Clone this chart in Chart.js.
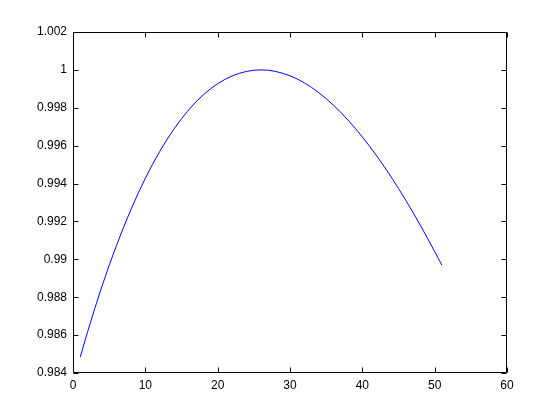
<!DOCTYPE html>
<html>
<head>
<meta charset="utf-8">
<script src="https://cdn.jsdelivr.net/npm/chart.js@4/dist/chart.umd.min.js"></script>
<style>
html,body{margin:0;padding:0;background:#fff;}
#wrap{width:560px;height:420px;}
</style>
</head>
<body>
<div id="wrap"><canvas id="c" width="560" height="420"></canvas></div>
<script>
const xValues = [1,2,3,4,5,6,7,8,9,10,11,12,13,14,15,16,17,18,19,20,21,22,23,24,25,26,27,28,29,30,31,32,33,34,35,36,37,38,39,40,41,42,43,44,45,46,47,48,49,50,51];
const yValues = [0.98484,0.98615,0.98739,0.98857,0.98968,0.99072,0.99170,0.99262,0.99348,0.99428,
  0.99502,0.99570,0.99633,0.99690,0.99742,0.99789,0.99831,0.99868,0.99900,0.99927,
  0.99950,0.99968,0.99982,0.99992,0.99998,1.00000,0.99998,0.99992,0.99982,0.99969,
  0.99952,0.99931,0.99907,0.99879,0.99848,0.99814,0.99777,0.99736,0.99693,0.99646,
  0.99597,0.99545,0.99491,0.99434,0.99374,0.99312,0.99248,0.99181,0.99112,0.99041,0.98969];
const xTicks = [0,10,20,30,40,50,60];
const yTicks = [0.984,0.986,0.988,0.99,0.992,0.994,0.996,0.998,1,1.002];

const points = xValues.map((x,i)=>({x:x,y:yValues[i]}));
const fmt = v => String(parseFloat(Number(v).toFixed(3)));

const boxPlugin = {
  id:'matlabBox',
  afterDraw(chart){
    const ctx = chart.ctx, a = chart.chartArea;
    const xs = chart.scales.x, ys = chart.scales.y;
    const L = Math.round(a.left)+0.5, R = Math.round(a.right)-0.5;
    const T = Math.round(a.top)+0.5, B = Math.round(a.bottom)-0.5;
    const tl = 5;
    ctx.save();
    ctx.strokeStyle = '#000';
    ctx.lineWidth = 1;
    ctx.beginPath();
    ctx.rect(L, T, R-L, B-T);
    xs.ticks.forEach(t=>{
      const px = Math.round(xs.getPixelForValue(t.value))+0.5;
      ctx.moveTo(px,B); ctx.lineTo(px,B-tl);
      ctx.moveTo(px,T); ctx.lineTo(px,T+tl);
    });
    ys.ticks.forEach(t=>{
      const py = Math.round(ys.getPixelForValue(t.value))+0.5;
      ctx.moveTo(L,py); ctx.lineTo(L+tl,py);
      ctx.moveTo(R,py); ctx.lineTo(R-tl,py);
    });
    ctx.stroke();
    ctx.restore();
  }
};

new Chart(document.getElementById('c'), {
  type:'line',
  data:{datasets:[{data:points,borderColor:'#0000ff',borderWidth:1,pointRadius:0,tension:0,fill:false}]},
  options:{
    responsive:false,
    animation:false,
    events:[],
    layout:{padding:{left:0,top:32,right:53,bottom:0}},
    plugins:{legend:{display:false},tooltip:{enabled:false}},
    scales:{
      x:{type:'linear',min:0,max:60,
         afterBuildTicks(s){ s.ticks = xTicks.map(v=>({value:v})); },
         afterFit(s){ s.height = 47; },
         grid:{display:false,drawTicks:false},
         border:{display:false},
         ticks:{padding:5,color:'#000',font:{family:'Liberation Sans, Arial, Helvetica',size:12},callback:v=>fmt(v),maxRotation:0,autoSkip:false}},
      y:{type:'linear',min:0.984,max:1.002,
         afterBuildTicks(s){ s.ticks = yTicks.map(v=>({value:v})); },
         afterFit(s){ s.width = 73; },
         grid:{display:false,drawTicks:false},
         border:{display:false},
         ticks:{padding:6,color:'#000',font:{family:'Liberation Sans, Arial, Helvetica',size:12},callback:v=>fmt(v),autoSkip:false}}
    }
  },
  plugins:[boxPlugin]
});
</script>
</body>
</html>
